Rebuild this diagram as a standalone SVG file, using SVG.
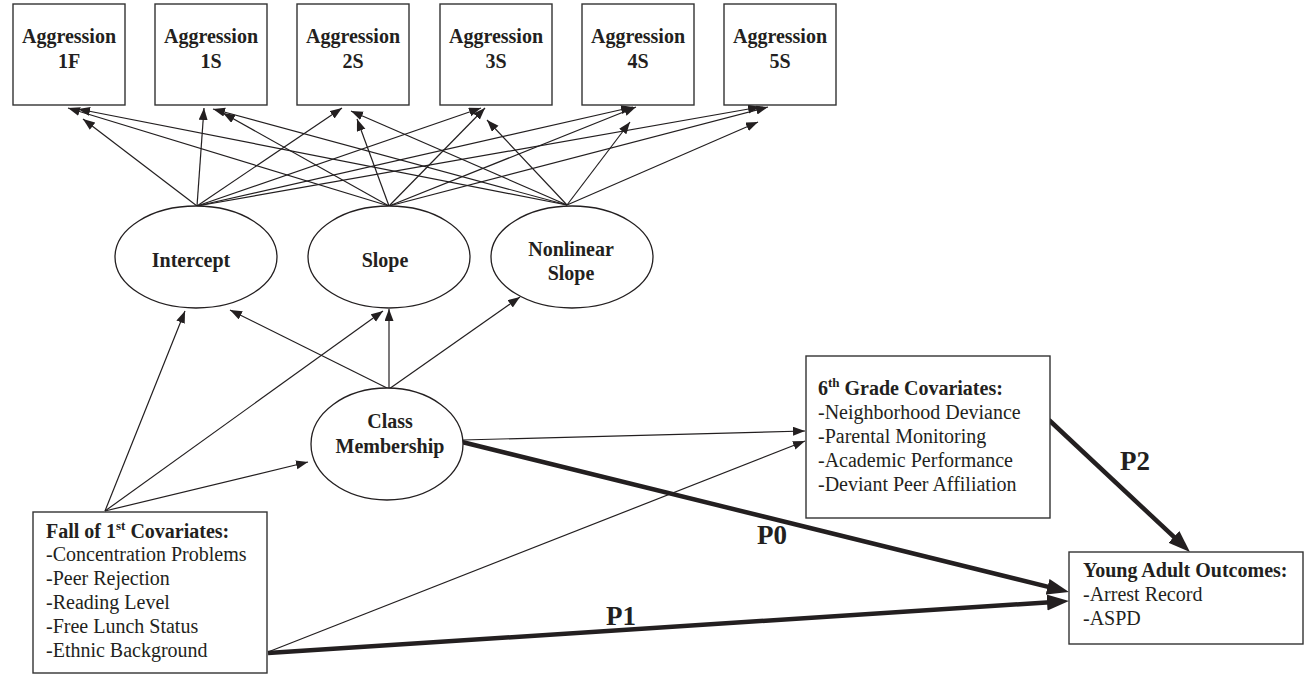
<svg xmlns="http://www.w3.org/2000/svg" width="1311" height="675" viewBox="0 0 1311 675">
<style>
.box{fill:#fff;stroke:#333;stroke-width:1.4}
.ell{fill:#fff;stroke:#231f20;stroke-width:1.3}
.t{font-family:"Liberation Serif","Times New Roman",serif;font-size:20px;fill:#231f20}
.b{font-weight:bold}
.c{text-anchor:middle}
.p{font-family:"Liberation Serif","Times New Roman",serif;font-size:27px;font-weight:bold;fill:#231f20}
.ln{stroke:#231f20;stroke-width:1.2;fill:none;marker-end:url(#ah)}
.th{stroke:#231f20;stroke-width:4.5;fill:none;marker-end:url(#ahb)}
</style>
<defs>
<marker id="ah" markerUnits="userSpaceOnUse" markerWidth="13" markerHeight="10" refX="12" refY="4.5" orient="auto"><path d="M0,0 L12,4.5 L0,9 z" fill="#231f20"/></marker>
<marker id="ahb" markerUnits="userSpaceOnUse" markerWidth="23" markerHeight="17" refX="7" refY="8" orient="auto"><path d="M0,0 L22,8 L0,16 z" fill="#231f20"/></marker>
</defs>
<rect width="1311" height="675" fill="#fff"/>
<g id="connectors">
<path class="ln" d="M197,206 L83,119"/>
<path class="ln" d="M389,206 L68,108"/>
<path class="ln" d="M567,205 L78,109"/>
<path class="ln" d="M197,206 L204,108"/>
<path class="ln" d="M389,206 L223,113"/>
<path class="ln" d="M567,205 L213,109"/>
<path class="ln" d="M197,206 L342,108"/>
<path class="ln" d="M389,206 L357,119"/>
<path class="ln" d="M567,205 L351,111"/>
<path class="ln" d="M197,206 L481,108"/>
<path class="ln" d="M389,206 L485,108"/>
<path class="ln" d="M567,205 L487,120"/>
<path class="ln" d="M197,206 L633,107"/>
<path class="ln" d="M389,206 L636,107"/>
<path class="ln" d="M567,205 L630,122"/>
<path class="ln" d="M197,206 L760,107"/>
<path class="ln" d="M389,206 L768,107"/>
<path class="ln" d="M567,205 L758,122"/>
<path class="ln" d="M105,511 L185,311"/>
<path class="ln" d="M105,511 L383,311"/>
<path class="ln" d="M105,511 L308,462"/>
<path class="ln" d="M389,389 L230,310"/>
<path class="ln" d="M389,389 L389,309"/>
<path class="ln" d="M389,389 L520,297"/>
<path class="ln" d="M462,440 L805,431"/>
<path class="ln" d="M268,652 L805,441"/>
<path class="th" d="M462,442 L1054.4,588.4"/>
<path class="th" d="M268,653 L1054,602"/>
<path class="th" d="M1049,420 L1179,541.7"/>
<text class="p" x="757" y="544">P0</text>
<text class="p" x="606" y="625">P1</text>
<text class="p" x="1120" y="470">P2</text>
</g>
<g id="agg1F"><rect class="box" x="13" y="4" width="112" height="101"/><text class="t b c" x="69" y="43">Aggression</text><text class="t b c" x="69" y="68">1F</text></g>
<g id="agg1S"><rect class="box" x="155" y="4" width="112" height="101"/><text class="t b c" x="211" y="43">Aggression</text><text class="t b c" x="211" y="68">1S</text></g>
<g id="agg2S"><rect class="box" x="297" y="4" width="112" height="101"/><text class="t b c" x="353" y="43">Aggression</text><text class="t b c" x="353" y="68">2S</text></g>
<g id="agg3S"><rect class="box" x="440" y="4" width="112" height="101"/><text class="t b c" x="496" y="43">Aggression</text><text class="t b c" x="496" y="68">3S</text></g>
<g id="agg4S"><rect class="box" x="582" y="4" width="112" height="101"/><text class="t b c" x="638" y="43">Aggression</text><text class="t b c" x="638" y="68">4S</text></g>
<g id="agg5S"><rect class="box" x="724" y="4" width="112" height="101"/><text class="t b c" x="780" y="43">Aggression</text><text class="t b c" x="780" y="68">5S</text></g>
<g id="intercept"><ellipse class="ell" cx="196" cy="257" rx="81" ry="51"/><text class="t b c" x="191" y="267">Intercept</text></g>
<g id="slope"><ellipse class="ell" cx="389" cy="257" rx="81" ry="51"/><text class="t b c" x="385" y="267">Slope</text></g>
<g id="nonlinear"><ellipse class="ell" cx="572" cy="257" rx="81" ry="51"/><text class="t b c" x="571" y="256">Nonlinear</text><text class="t b c" x="571" y="280">Slope</text></g>
<g id="class"><ellipse class="ell" cx="387" cy="444" rx="76" ry="56"/><text class="t b c" x="390" y="428">Class</text><text class="t b c" x="390" y="453">Membership</text></g>
<g id="fall"><rect class="box" x="33" y="512" width="234" height="161"/>
<text class="t b" x="46" y="538">Fall of 1<tspan font-size="13" dy="-8">st</tspan><tspan dy="8"> Covariates:</tspan></text>
<text class="t" x="46" y="561">-Concentration Problems</text>
<text class="t" x="46" y="585">-Peer Rejection</text>
<text class="t" x="46" y="609">-Reading Level</text>
<text class="t" x="46" y="633">-Free Lunch Status</text>
<text class="t" x="46" y="657">-Ethnic Background</text>
</g>
<g id="sixth"><rect class="box" x="806" y="356" width="244" height="162"/>
<text class="t b" x="818" y="395">6<tspan font-size="13" dy="-8">th</tspan><tspan dy="8"> Grade Covariates:</tspan></text>
<text class="t" x="818" y="419">-Neighborhood Deviance</text>
<text class="t" x="818" y="443">-Parental Monitoring</text>
<text class="t" x="818" y="467">-Academic Performance</text>
<text class="t" x="818" y="491">-Deviant Peer Affiliation</text>
</g>
<g id="young"><rect class="box" x="1069" y="552" width="234" height="92"/>
<text class="t b" x="1083" y="577">Young Adult Outcomes:</text>
<text class="t" x="1083" y="601">-Arrest Record</text>
<text class="t" x="1083" y="625">-ASPD</text>
</g>
</svg>
